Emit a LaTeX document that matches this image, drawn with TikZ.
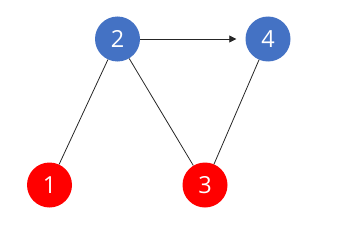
\documentclass[tikz,border=0pt]{standalone}
\usepackage{fontspec}
\setmainfont{Open Sans}
\usetikzlibrary{arrows.meta}
\definecolor{nblue}{HTML}{4472C4}
\definecolor{nred}{HTML}{FF0000}
\tikzset{
  vert/.style={circle, minimum size=45pt, inner sep=0pt, text=white, font=\fontsize{23.5}{25}\selectfont},
  bluev/.style={vert, fill=nblue},
  redv/.style={vert, fill=nred},
  edge/.style={line width=0.8pt, draw=black!85},
  arc/.style={edge, -{Triangle[length=7pt,width=7pt]}, shorten >=9pt}
}
\begin{document}
\begin{tikzpicture}[x=1pt,y=-1pt]
\useasboundingbox (0,0) rectangle (344,238);
\node[bluev] (n2) at (117.5,39) {2};
\node[bluev] (n4) at (268,39) {4};
\node[redv] (n1) at (49.5,185) {1};
\node[redv] (n3) at (205,185) {3};
\draw[edge] (n1) -- (n2);
\draw[edge] (n2) -- (n3);
\draw[edge] (n3) -- (n4);
\draw[arc] (n2) -- (n4);
\end{tikzpicture}
\end{document}
